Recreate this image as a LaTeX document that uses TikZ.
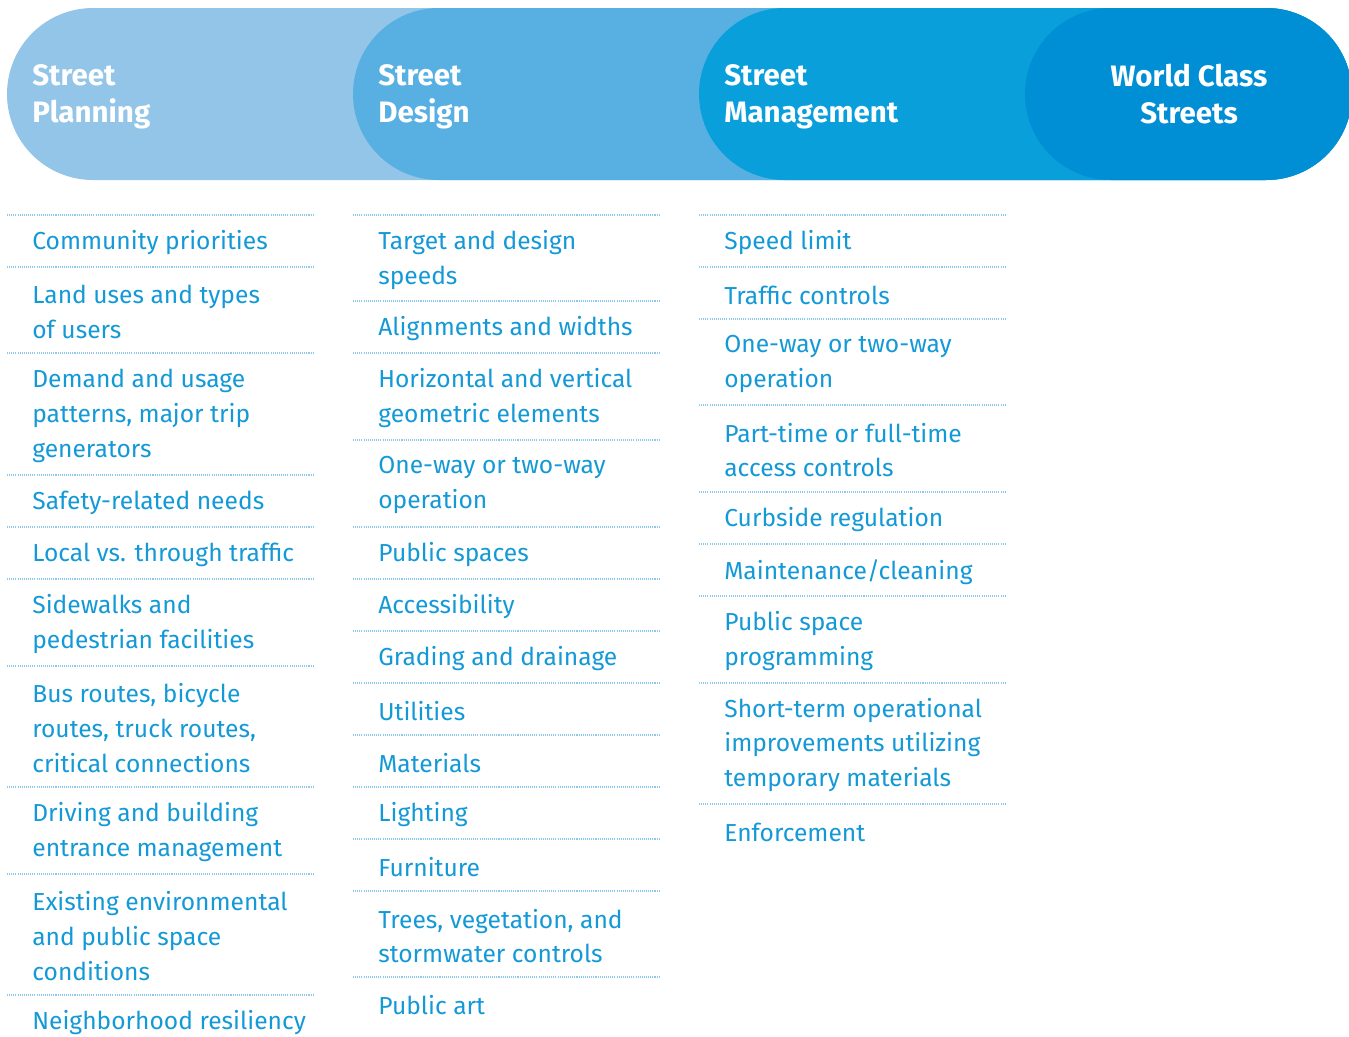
\documentclass[tikz,border=0pt]{standalone}
\usepackage{fontspec}
\setmainfont{Fira Sans}
\usetikzlibrary{positioning}
\definecolor{cplan}{HTML}{93C5E9}
\definecolor{cdesign}{HTML}{58B0E2}
\definecolor{cmanage}{HTML}{089FDA}
\definecolor{cworld}{HTML}{008ED5}
\definecolor{ctext}{HTML}{1499D7}
\definecolor{crule}{HTML}{8DC9EB}
\tikzset{
  every picture/.style={x=0.02cm, y=-0.02cm},
  stage/.style={fill=#1, rounded corners=1.72cm},
  head/.style={font=\bfseries\fontsize{16.8}{21}\selectfont, text=white, align=left, anchor=west, inner sep=0pt},
  item/.style={font=\fontsize{14}{19.8}\selectfont, text=ctext, align=left, anchor=west, inner sep=0pt},
  sep/.style={draw=crule, line width=0.6pt, dash pattern=on 0.6pt off 0.6pt},
}

\begin{document}
\begin{tikzpicture}
  \useasboundingbox (0,0) rectangle (1349,1036);
  \fill[stage=cplan] (7,8) rectangle (1352,180);
  \fill[stage=cdesign] (353,8) rectangle (1352,180);
  \fill[stage=cmanage] (699,8) rectangle (1352,180);
  \fill[stage=cworld] (1025,8) rectangle (1352,180);
  \node[head] (planning) at (32,97) {Street\\Planning};
  \node[head] (design) at (378,97) {Street\\Design};
  \node[head] (management) at (724,97) {Street\\Management};
  \node[head, anchor=center, align=center] (world) at (1189,94) {World Class\\Streets};

  \foreach \y in {215,267,353,475,527,579,666,787,874,995}
    \draw[sep] (7,\y) -- (314,\y);
  \foreach \y in {215,301,353,440,527,579,631,683,735,787,839,891,977}
    \draw[sep] (353,\y) -- (660,\y);
  \foreach \y in {215,267,319,405,492,544,596,683,804}
    \draw[sep] (699,\y) -- (1006,\y);

  \foreach \y/\t [count=\i] in {
      243/{Community priorities},
      312/{Land uses and types\\of users},
      416/{Demand and usage\\patterns, major trip\\generators},
      503/{Safety-related needs},
      555/{Local vs. through traffic},
      624/{Sidewalks and\\pedestrian facilities},
      728/{Bus routes, bicycle\\routes, truck routes,\\critical connections},
      832/{Driving and building\\entrance management},
      936/{Existing environmental\\and public space\\conditions},
      1023/{Neighborhood resiliency}}
    \node[item] (plan\i) at (32,\y) {\t};

  \foreach \y/\t [count=\i] in {
      260/{Target and design\\speeds},
      329/{Alignments and widths},
      398/{Horizontal and vertical\\geometric elements},
      485/{One-way or two-way\\operation},
      555/{Public spaces},
      607/{Accessibility},
      659/{Grading and drainage},
      711/{Utilities},
      763/{Materials},
      815/{Lighting},
      867/{Furniture},
      936/{Trees, vegetation, and\\stormwater controls},
      1005/{Public art}}
    \node[item] (design\i) at (378,\y) {\t};

  \foreach \y/\t [count=\i] in {
      243/{Speed limit},
      295/{Traffic controls},
      364/{One-way or two-way\\operation},
      450/{Part-time or full-time\\access controls},
      520/{Curbside regulation},
      572/{Maintenance/cleaning},
      641/{Public space\\programming},
      745/{Short-term operational\\improvements utilizing\\temporary materials},
      832/{Enforcement}}
    \node[item] (manage\i) at (724,\y) {\t};
\end{tikzpicture}
\end{document}
